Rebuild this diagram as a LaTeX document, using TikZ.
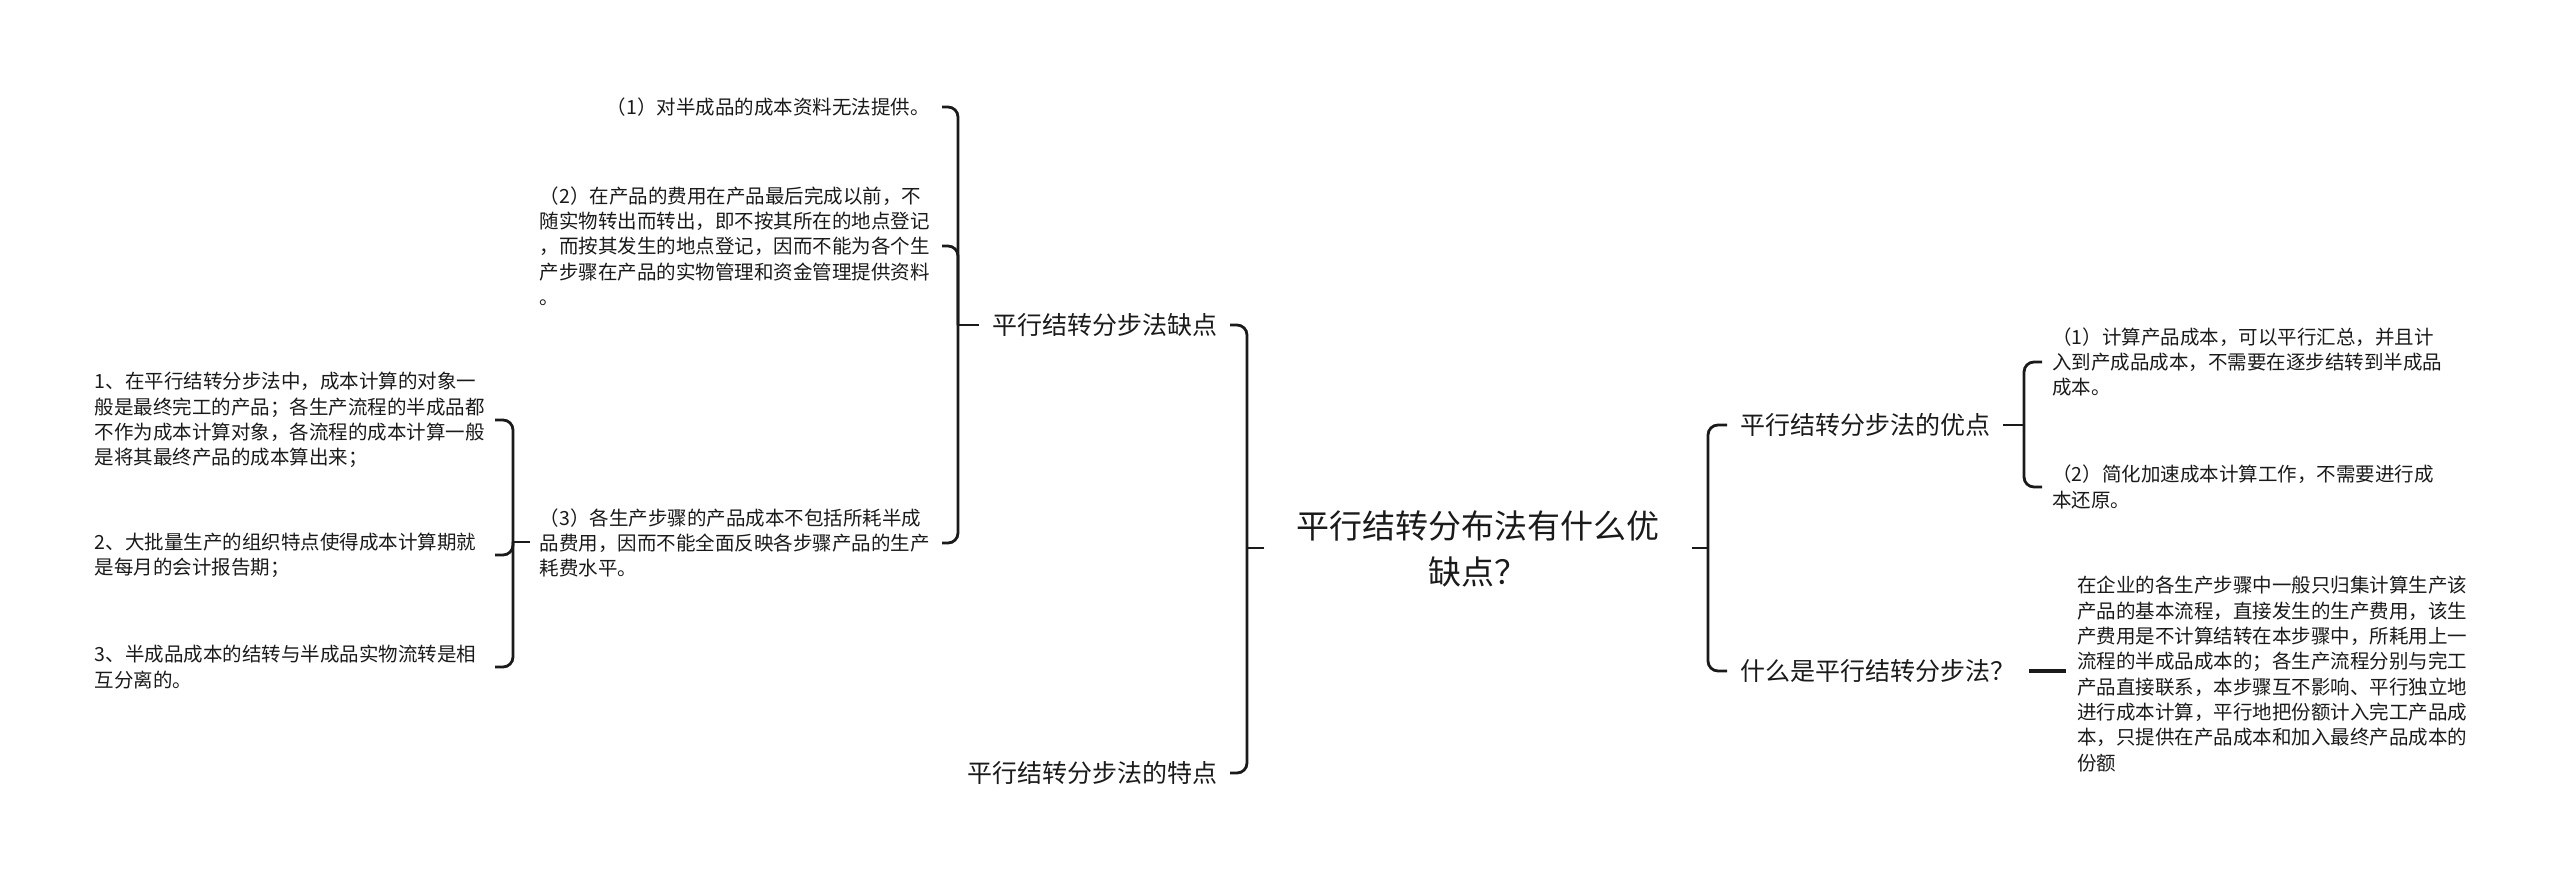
\documentclass[tikz,border=0pt]{standalone}
\usepackage{fontspec}
\setmainfont{Noto Sans CJK SC}
\definecolor{linec}{HTML}{1A1A1A}
\definecolor{txt}{HTML}{1A1A1A}
\tikzset{
  conn/.style={line width=2.8pt, draw=linec},
  br/.style={conn, rounded corners=10pt},
  detail/.style={font=\fontsize{19.5}{25.3}\selectfont, text=txt, inner xsep=10pt, inner ysep=2pt},
  block/.style={detail, text width=390pt, align=left},
  label/.style={font=\fontsize{25}{30}\selectfont, text=txt, inner xsep=13pt, inner ysep=3pt},
  rootbox/.style={font=\fontsize{33}{46}\selectfont, text=txt, inner xsep=32pt, align=center}
}
\begin{document}
\begin{tikzpicture}[x=1pt,y=-1pt]
\useasboundingbox (0,0) rectangle (2560,886);
% root
\node[rootbox] (root) at (1478,549) {平行结转分布法有什么优\\缺点？};
% left level 1
\node[label] (kd) at (1104.5,325) {平行结转分步法缺点};
\node[label] (td) at (1092,773) {平行结转分步法的特点};
% right level 1
\node[label, anchor=west] (yd) at (1727,425) {平行结转分步法的优点};
\node[label, anchor=west] (wh) at (1727,671) {什么是平行结转分步法？};
% 缺点 children
\node[detail, anchor=east, inner xsep=12pt] (k1) at (942,107) {（1）对半成品的成本资料无法提供。};
\node[block, anchor=east, inner xsep=12pt] (k2) at (942,246) {（2）在产品的费用在产品最后完成以前，不\\随实物转出而转出，即不按其所在的地点登记\\，而按其发生的地点登记，因而不能为各个生\\产步骤在产品的实物管理和资金管理提供资料\\。};
\node[block, anchor=east, inner xsep=12pt] (k3) at (942,543) {（3）各生产步骤的产品成本不包括所耗半成\\品费用，因而不能全面反映各步骤产品的生产\\耗费水平。};
% 特点 children
\node[block, anchor=east] (t1) at (495,420) {1、在平行结转分步法中，成本计算的对象一\\般是最终完工的产品；各生产流程的半成品都\\不作为成本计算对象，各流程的成本计算一般\\是将其最终产品的成本算出来；};
\node[block, anchor=east] (t2) at (495,555) {2、大批量生产的组织特点使得成本计算期就\\是每月的会计报告期；};
\node[block, anchor=east] (t3) at (495,667) {3、半成品成本的结转与半成品实物流转是相\\互分离的。};
% 优点 children
\node[block, anchor=west] (y1) at (2042,362) {（1）计算产品成本，可以平行汇总，并且计\\入到产成品成本，不需要在逐步结转到半成品\\成本。};
\node[block, anchor=west] (y2) at (2042,487) {（2）简化加速成本计算工作，不需要进行成\\本还原。};
% 什么是 child
\node[block, anchor=west, inner xsep=11pt] (w1) at (2066,674) {在企业的各生产步骤中一般只归集计算生产该\\产品的基本流程，直接发生的生产费用，该生\\产费用是不计算结转在本步骤中，所耗用上一\\流程的半成品成本的；各生产流程分别与完工\\产品直接联系，本步骤互不影响、平行独立地\\进行成本计算，平行地把份额计入完工产品成\\本，只提供在产品成本和加入最终产品成本的\\份额};
% junctions
\coordinate (Jr) at (1247,548);
\coordinate (Jr2) at (1708,548);
\coordinate (Jk) at (958,325);
\coordinate (Jt) at (513,542);
\coordinate (tEnd) at (530,542);
\coordinate (Jy) at (2024,425);
% root connectors
\draw[conn] (root.west |- Jr) -- (Jr);
\draw[br] (Jr) |- (kd.east);
\draw[br] (Jr) |- (td.east);
\draw[conn] (root.east |- Jr2) -- (Jr2);
\draw[br] (Jr2) |- (yd.west);
\draw[br] (Jr2) |- (wh.west);
% 缺点
\draw[conn] (kd.west) -- (Jk);
\draw[br] (Jk) |- (k1.east);
\draw[br] (Jk) |- (k2.east);
\draw[br] (Jk) |- (k3.east);
% 特点
\draw[conn] (tEnd) -- (Jt);
\draw[br] (Jt) |- (t1.east);
\draw[br] (Jt) |- (t2.east);
\draw[br] (Jt) |- (t3.east);
% 优点
\draw[conn] (yd.east) -- (Jy);
\draw[br] (Jy) |- (y1.west);
\draw[br] (Jy) |- (y2.west);
% 什么是
\draw[conn, line width=3.2pt, shorten <=1pt] (wh.east) -- (w1.west |- wh.east);
\end{tikzpicture}
\end{document}
